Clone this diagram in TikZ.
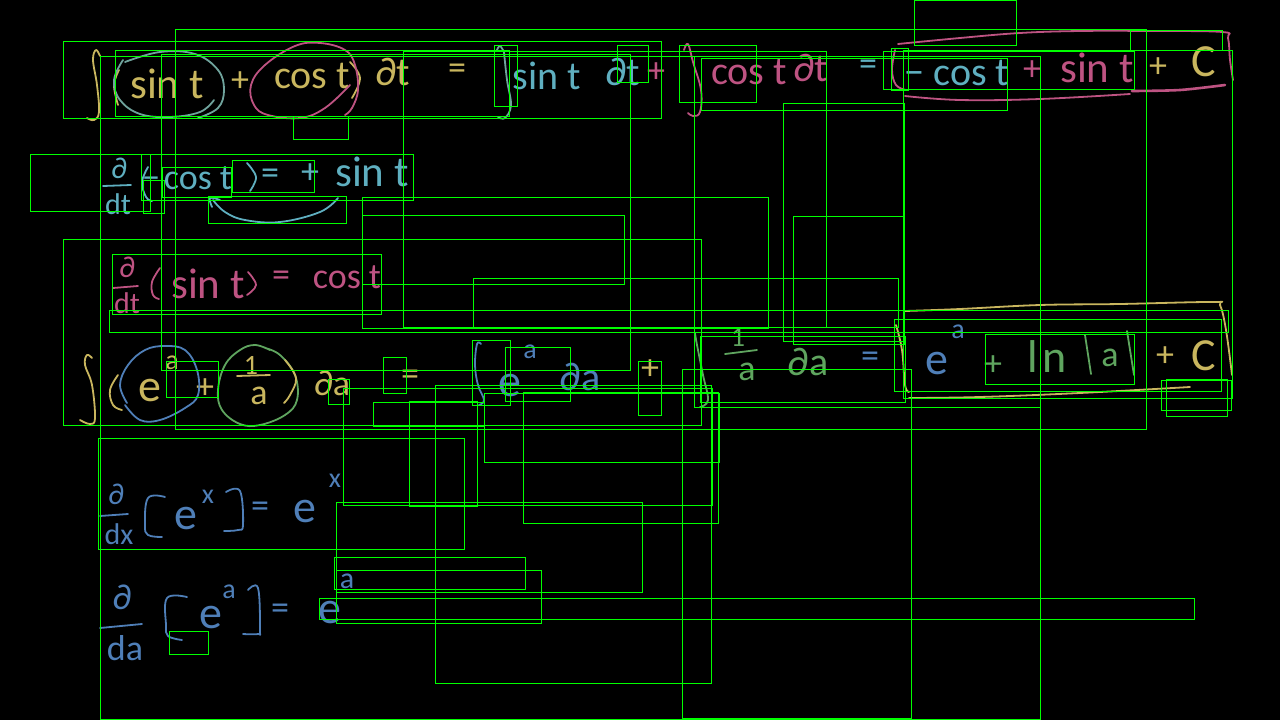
\documentclass[tikz,border=0pt]{standalone}
\usepackage{fontspec}
\setmainfont{Carlito}
\definecolor{hyel}{HTML}{C9B65E}
\definecolor{htea}{HTML}{5FAFC0}
\definecolor{hgry}{HTML}{6FA39C}
\definecolor{hpnk}{HTML}{BE5382}
\definecolor{hblu}{HTML}{4F7FB8}
\definecolor{hgrn}{HTML}{5FA55F}
\tikzset{
 gbox/.style={draw=green,line width=0.9pt},
 sk/.style={line width=1.8pt,line cap=round,line join=round},
 hw/.style={inner sep=0pt,font=\fontsize{36}{36}\selectfont},
 hwm/.style={inner sep=0pt,font=\fontsize{40}{40}\selectfont},
 hwl/.style={inner sep=0pt,font=\fontsize{43}{43}\selectfont},
 hwf/.style={inner sep=0pt,font=\fontsize{30}{30}\selectfont},
 hws/.style={inner sep=0pt,font=\fontsize{28}{28}\selectfont},
 hwb/.style={inner sep=0pt,font=\fontsize{46}{46}\selectfont},
}
\newcommand{\crv}[2]{\draw[sk,#1] plot[smooth,tension=.65] coordinates {#2};}
\begin{document}
\begin{tikzpicture}[x=1pt,y=-1pt]
\useasboundingbox (0,0) rectangle (1280,720);
\fill[black] (0,0) rectangle (1280,720);
% ---------- line 1
\crv{hyel}{(87,118)(94,120)(99,112)(97,85)(93,60)(96,50)(100,56)}
\crv{hyel}{(119,70)(114,85)(118,105)}
\node[hwl,hyel] (a1) at (167,84) {sin t};
\node[hw,hyel] (a2) at (240,82) {+};
\node[hwm,hyel] (a3) at (312,76) {cos t};
\crv{hyel}{(350,62)(360,78)(352,98)}
\node[hwm,hyel] (a4) at (393,72) {∂t};
\node[hw,hyel] (a5) at (457,72) {=};
\crv{hgry}{(123,60)(114,80)(120,100)(140,114)(170,117)(200,112)(214,100)}
\crv{hgry}{(125,62)(160,52)(195,54)(218,70)(224,90)(218,108)(198,118)}
\crv{hpnk}{(345,115)(352,108)(358,90)(355,65)(345,50)(320,43)(295,46)(265,65)(251,85)(254,105)(268,115)(300,118)(325,108)(350,85)}
\crv{hgry}{(504,52)(507,80)(511,105)(505,118)(498,117)}
\crv{hgry}{(497,50)(500,46)(504,52)}
\node[hwm,htea] (a6) at (547,76) {sin t};
\node[hwm,htea] (a7) at (623,72) {∂t};
\node[hw,hpnk] (a8) at (656,73) {+};
\crv{hpnk}{(684,50)(688,44)(693,62)(701,90)(700,112)(693,116)(688,113)}
\node[hwm,hpnk] (a9) at (749,72) {cos t};
\node[hwm,hpnk] (a10) at (811,68) {∂t};
\node[hw,htea] (a11) at (868,68) {=};
\node[hwm,htea] (a12) at (957,73) {− cos t};
\node[hw,hpnk] (a13) at (1032,71) {+};
\node[hwl,hpnk] (a14) at (1097,68) {sin t};
\node[hw,hyel] (a15) at (1158,68) {+};
\node[hwb,hyel] (a16) at (1204,62) {C};
\crv{hpnk}{(898,44)(960,38)(1020,33)(1080,31)(1150,31)(1222,32)(1228,38)(1230,60)(1233,80)}
\crv{hpnk}{(895,50)(892,70)(896,85)(906,90)}
\crv{hpnk}{(905,96)(960,100)(1040,99)(1130,94)}
\draw[hpnk,line width=2.6pt,line cap=round] plot[smooth] coordinates {(1132,91)(1180,90)(1225,85)};
% ---------- line 2
\node[hwf,htea] (b1) at (119,168) {∂};
\draw[sk,htea] (103,186) -- (131,185);
\node[hwf,htea] (b2) at (118,204) {dt};
\crv{htea}{(148,167)(142,182)(146,197)(152,201)}
\node[hw,htea] (b3) at (151,183) {−};
\node[hw,htea] (b4) at (198,178) {cos t};
\crv{htea}{(247,163)(256,177)(250,191)}
\node[hw,htea] (b5) at (270,177) {=};
\node[hw,htea] (b6) at (310,174) {+};
\node[hwl,htea] (b7) at (372,172) {sin t};
\crv{htea}{(338,198)(320,212)(280,222)(245,220)(225,212)(213,200)}
\crv{htea}{(212,207)(210,198)(220,200)}
% ---------- line 3
\node[hwf,hpnk] (c1) at (127,267) {∂};
\draw[sk,hpnk] (113,288) -- (138,286);
\node[hwf,hpnk] (c2) at (127,303) {dt};
\crv{hpnk}{(160,268)(152,282)(153,295)(159,299)}
\node[hwl,hpnk] (c3) at (208,284) {sin t};
\crv{hpnk}{(248,272)(256,285)(247,295)}
\node[hw,hpnk] (c4) at (281,279) {=};
\node[hw,hpnk] (c5) at (347,277) {cos t};
% ---------- line 4
\crv{hyel}{(80,420)(90,424)(95,418)(92,385)(85,365)(87,355)(92,358)}
\crv{hyel}{(118,375)(110,390)(113,405)(122,410)}
\node[hwb,hyel] (d1) at (150,391) {e};
\node[hws,hyel] (d2) at (172,363) {a};
\node[hw,hyel] (d3) at (205,389) {+};
\crv{hblu}{(127,403)(120,385)(128,365)(145,350)(165,346)(185,350)(197,370)(198,395)(185,408)(160,420)(140,420)(125,405)}
\crv{hgrn}{(265,348)(280,355)(295,375)(297,400)(285,415)(260,425)(240,424)(222,410)(218,390)(225,365)(240,350)(255,345)(270,350)}
\node[hws,hyel] (d4) at (251,365) {1};
\draw[sk,hyel] (237,376) -- (270,375);
\node[hw,hyel] (d5) at (259,396) {a};
\crv{hyel}{(285,360)(296,378)(290,395)(284,403)}
\node[hw,hyel] (d6) at (332,383) {∂a};
\node[hw,hyel] (d7) at (410,378) {=};
\crv{hblu}{(481,344)(477,344)(475,365)(478,385)(484,400)(479,405)}
\node[hws,hblu] (d8) at (530,352) {a};
\node[hwb,hblu] (d9) at (510,386) {e};
\node[hwm,hblu] (d10) at (580,377) {∂a};
\node[hw,hyel] (d11) at (650,370) {+};
% right side of line 4
\crv{hgrn}{(695,333)(697,345)(703,375)(708,400)(700,407)}
\node[hws,hgrn] (e1) at (738,337) {1};
\draw[sk,hgrn] (725,354) -- (757,350);
\node[hw,hgrn] (e2) at (747,372) {a};
\node[hwm,hgrn] (e3) at (808,362) {∂a};
\node[hw,hblu] (e4) at (870,360) {=};
\node[hwb,hblu] (e5) at (937,364) {e};
\node[hws,hblu] (e6) at (958,332) {a};
\node[hw,hgrn] (e7) at (993,366) {+};
\node[hwb,hgrn] (e8) at (1047,357) {l\kern4pt n};
\draw[sk,hgrn] (1085,335) -- (1091,374);
\node[hw,hgrn] (e9) at (1110,358) {a};
\draw[sk,hgrn] (1127,331) -- (1134,375);
\node[hw,hyel] (e10) at (1165,357) {+};
\node[hwb,hyel] (e11) at (1204,356) {C};
\crv{hyel}{(905,311)(960,309)(1040,305)(1120,304)(1213,302)(1220,305)(1226,330)(1232,375)}
\crv{hyel}{(896,325)(902,350)(905,385)(909,392)}
\crv{hyel}{(909,398)(980,397)(1080,393)(1190,387)}
% ---------- line 5
\node[hwf,hblu] (f1) at (116,494) {∂};
\draw[sk,hblu] (100,516) -- (128,514);
\node[hwf,hblu] (f2) at (119,534) {dx};
\crv{hblu}{(165,497)(148,498)(145,525)(148,535)(162,537)}
\node[hwb,hblu] (f3) at (186,518) {e};
\node[hws,hblu] (f4) at (208,497) {x};
\crv{hblu}{(226,492)(240,491)(243,525)(238,530)(224,531)}
\node[hw,hblu] (f5) at (260,510) {=};
\node[hwb,hblu] (f6) at (305,511) {e};
\node[hws,hblu] (f7) at (335,481) {x};
% ---------- line 6
\node[hw,hblu] (g1) at (122,597) {∂};
\draw[sk,hblu] (100,628) -- (142,624);
\node[hw,hblu] (g2) at (125,648) {da};
\crv{hblu}{(187,597)(167,598)(166,625)(168,636)(182,640)}
\node[hwb,hblu] (g3) at (211,617) {e};
\node[hws,hblu] (g4) at (229,592) {a};
\crv{hblu}{(248,590)(258,588)(260,630)(258,634)(243,634)}
\node[hw,hblu] (g5) at (280,612) {=};
\node[hwb,hblu] (g6) at (330,612) {e};
\node[hwf,hblu] (g7) at (347,581) {a};
% ---------- rectangles
\foreach \xa/\ya/\xb/\yb in {
175.5/29.5/1146.5/429.5, 63.5/41.5/661.5/118.5, 63.5/239.5/701.5/425.5, 30.5/154.5/150.5/211.5,
115.5/50.5/509.5/116.5, 100.5/56.5/1040.5/719.5, 161.5/54.5/630.5/370.5, 403.5/51.5/826.5/327.5,
494.5/45.5/517.5/106.5, 617.5/45.5/648.5/82.5, 293.5/116.5/348.5/139.5,
141.5/154.5/413.5/200.5, 162.5/167.5/231.5/197.5, 232.5/160.5/314.5/192.5, 143.5/180.5/164.5/213.5,
208.5/196.5/346.5/223.5, 362.5/197.5/768.5/328.5, 362.5/215.5/624.5/284.5,
112.5/254.5/381.5/314.5, 109.5/310.5/1228.5/332.5, 473.5/278.5/898.5/327.5,
166.5/361.5/218.5/397.5, 328.5/379.5/349.5/404.5, 383.5/357.5/406.5/393.5, 472.5/340.5/510.5/405.5,
505.5/347.5/570.5/401.5, 638.5/361.5/661.5/415.5, 343.5/388.5/712.5/505.5, 373.5/402.5/484.5/426.5,
409.5/401.5/477.5/506.5, 435.5/385.5/711.5/683.5, 484.5/393.5/719.5/462.5, 523.5/392.5/718.5/523.5,
98.5/438.5/464.5/549.5, 914.5/0.5/1016.5/45.5, 1130.5/30.5/1222.5/50.5, 679.5/45.5/756.5/102.5,
694.5/56.5/1040.5/407.5, 701.5/58.5/1007.5/110.5, 883.5/51.5/1134.5/89.5, 891.5/48.5/908.5/90.5,
903.5/50.5/1232.5/398.5, 783.5/103.5/904.5/341.5, 793.5/216.5/904.5/344.5, 700.5/336.5/905.5/402.5,
682.5/369.5/911.5/718.5, 1161.5/380.5/1231.5/410.5, 1166.5/379.5/1227.5/416.5, 985.5/334.5/1134.5/384.5,
894.5/319.5/1221.5/391.5, 336.5/502.5/642.5/592.5, 334.5/557.5/525.5/589.5, 336.5/570.5/541.5/623.5,
319.5/598.5/1194.5/619.5, 169.5/631.5/208.5/654.5}
{\draw[gbox] (\xa,\ya) rectangle (\xb,\yb);}
\end{tikzpicture}
\end{document}
